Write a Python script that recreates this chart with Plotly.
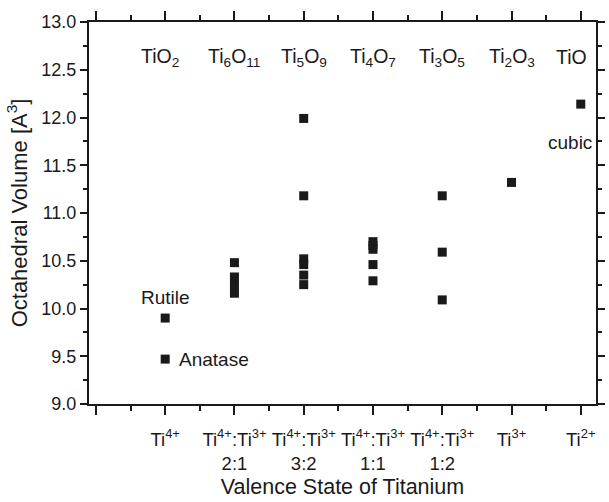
import plotly.graph_objects as go

# Data: x = valence-state category index, y = octahedral volume
col_2_1 = [10.48, 10.33, 10.25, 10.16]
col_3_2 = [11.99, 11.18, 10.52, 10.46, 10.35, 10.25]
col_1_1 = [10.70, 10.66, 10.62, 10.46, 10.29]
col_1_2 = [11.18, 10.59, 10.09]
rutile = [9.90]
anatase = [9.47]
ti2o3 = [11.32]
tio = [12.14]

xs = ([1] * len(rutile) + [1] * len(anatase) + [2] * len(col_2_1) + [3] * len(col_3_2)
      + [4] * len(col_1_1) + [5] * len(col_1_2) + [6] * len(ti2o3) + [7] * len(tio))
ys = rutile + anatase + col_2_1 + col_3_2 + col_1_1 + col_1_2 + ti2o3 + tio

tick_vals = [0, 1, 2, 3, 4, 5, 6, 7]
tick_text = ["", "Ti<sup>4+</sup>",
             "Ti<sup>4+</sup>:Ti<sup>3+</sup><br>2:1",
             "Ti<sup>4+</sup>:Ti<sup>3+</sup><br>3:2",
             "Ti<sup>4+</sup>:Ti<sup>3+</sup><br>1:1",
             "Ti<sup>4+</sup>:Ti<sup>3+</sup><br>1:2",
             "Ti<sup>3+</sup>", "Ti<sup>2+</sup>"]

oxides = ["TiO<sub>2</sub>", "Ti<sub>6</sub>O<sub>11</sub>", "Ti<sub>5</sub>O<sub>9</sub>",
          "Ti<sub>4</sub>O<sub>7</sub>", "Ti<sub>3</sub>O<sub>5</sub>",
          "Ti<sub>2</sub>O<sub>3</sub>", "TiO"]
oxide_x = [0.93, 2, 3, 4, 5, 6, 6.87]

FONT = "Liberation Sans, Arial, Helvetica, sans-serif"
INK = "#1a1a1a"

fig = go.Figure()
fig.add_trace(go.Scatter(
    x=xs, y=ys, mode="markers",
    marker=dict(symbol="square", size=9, color=INK, line=dict(width=0)),
    showlegend=False, hoverinfo="skip"))

annotations = []
for t, xv in zip(oxides, oxide_x):
    annotations.append(dict(x=xv, y=12.63, xref="x", yref="y", text=t, showarrow=False,
                            font=dict(size=19.5, color=INK, family=FONT),
                            xanchor="center", yanchor="middle"))
annotations.append(dict(x=1, y=10.12, text="Rutile", showarrow=False,
                        font=dict(size=19, color=INK, family=FONT),
                        xanchor="center", yanchor="middle"))
annotations.append(dict(x=1.17, y=9.47, text="Anatase", showarrow=False,
                        font=dict(size=19, color=INK, family=FONT),
                        xanchor="left", yanchor="middle"))
annotations.append(dict(x=6.84, y=11.74, text="cubic", showarrow=False,
                        font=dict(size=19, color=INK, family=FONT),
                        xanchor="center", yanchor="middle"))

fig.update_layout(
    width=609, height=502,
    margin=dict(l=89, r=4, t=22, b=98),
    paper_bgcolor="white", plot_bgcolor="white",
    font=dict(family=FONT, size=18, color=INK),
    annotations=annotations,
    xaxis=dict(
        range=[-0.1, 7.22], tickmode="array", tickvals=tick_vals, ticktext=tick_text,
        ticks="outside", ticklen=9, tickwidth=2, tickcolor=INK,
        showline=True, linewidth=2, linecolor=INK, mirror="ticks",
        showgrid=False, zeroline=False, ticklabelstandoff=9,
        tickfont=dict(size=18.5, family=FONT, color=INK),
        minor=dict(tickmode="linear", tick0=0.5, dtick=1, ticks="outside", ticklen=5,
                   tickwidth=1.5, tickcolor=INK, showgrid=False),
        title=dict(text="Valence State of Titanium", font=dict(size=21.5, family=FONT, color=INK),
                   standoff=6),
    ),
    yaxis=dict(
        range=[9.0, 13.0], tickmode="linear", tick0=9.0, dtick=0.5, tickformat=".1f",
        ticks="outside", ticklen=7, tickwidth=2, tickcolor=INK,
        showline=True, linewidth=2, linecolor=INK, mirror="ticks",
        showgrid=False, zeroline=False,
        tickfont=dict(size=18, family=FONT, color=INK),
        minor=dict(tickmode="linear", tick0=9.25, dtick=0.5, ticks="outside", ticklen=4,
                   tickwidth=1.5, tickcolor=INK, showgrid=False),
        title=dict(text="Octahedral Volume [A<sup>3</sup>]", font=dict(size=22, family=FONT, color=INK),
                   standoff=8),
    ),
)

fig.write_html("out.html")
